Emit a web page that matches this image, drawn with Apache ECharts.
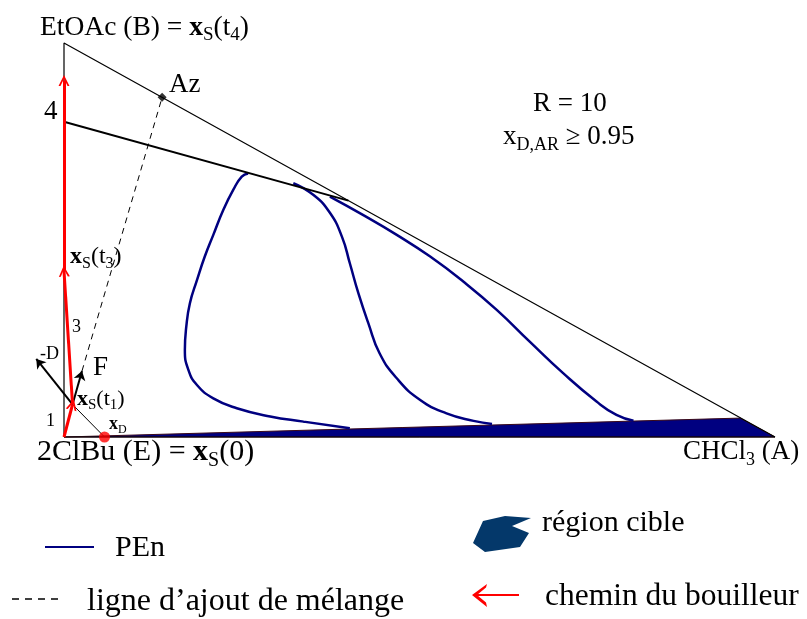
<!DOCTYPE html>
<html>
<head>
<meta charset="utf-8">
<script src="https://cdn.jsdelivr.net/npm/echarts@6/dist/echarts.min.js"></script>
<style>html,body{margin:0;padding:0;background:#fff}#c{width:807px;height:619px}</style>
</head>
<body>
<div id="c"></div>
<script>
// Compositions: [x_A (CHCl3), x_B (EtOAc)]; x_E = 1 - x_A - x_B
const triangle = [[0, 0], [0, 1], [1, 0], [0, 0]];
const line4 = [[0, 0.8], [0.4, 0.6]];
const pen1 = [[0.402,0.022],[0.337,0.039],[0.290,0.052],[0.243,0.073],[0.210,0.098],[0.187,0.132],[0.175,0.170],[0.170,0.221],[0.172,0.280],[0.177,0.339],[0.187,0.398],[0.198,0.458],[0.210,0.513],[0.224,0.576],[0.238,0.627],[0.250,0.661],[0.259,0.669]];
const pen2 = [[0.3225,0.644],[0.351,0.614],[0.374,0.569],[0.391,0.508],[0.402,0.441],[0.414,0.365],[0.428,0.289],[0.444,0.212],[0.468,0.149],[0.501,0.094],[0.538,0.060],[0.576,0.041],[0.602,0.033]];
const pen3 = [[0.374,0.610],[0.421,0.563],[0.468,0.513],[0.515,0.458],[0.562,0.394],[0.609,0.322],[0.655,0.242],[0.702,0.162],[0.749,0.090],[0.777,0.056],[0.801,0.041]];
const targetRegion = [[0, 0], [0.951, 0.048], [1, 0]];
const xD = [0.057, 0];
const xS0 = [0, 0];
const xS1 = [0.012, 0.0825];
const xS3 = [0, 0.421];
const xS4end = [0, 0.905];
const az = [0.138, 0.862];
const feedTip = [0.0253, 0.1675];
const minusDTip = [-0.039, 0.198];

const FONT = 'Liberation Serif';
const NAVY = '#000080';
const chevron = 'path://M5,0 L10,10 L8.2,10 L5,3.4 L1.8,10 L0,10 Z';

function txt(x, y, text, fs, extra) {
  const subFs = Math.round(fs * 0.68);
  const lh = Math.round(fs * 1.25);
  return Object.assign({
    type: 'text', z: 100,
    style: {
      x: x, y: y, text: text, fontSize: fs, fontFamily: FONT, fill: '#000',
      lineHeight: lh,
      align: 'left', verticalAlign: 'middle', textAlign: 'left', textVerticalAlign: 'middle',
      rich: {
        b: { fontSize: fs, fontFamily: FONT, fontWeight: 'bold', lineHeight: lh, fill: '#000' },
        i: { fontSize: fs, fontFamily: FONT, lineHeight: lh, fill: '#000' },
        s: { fontSize: subFs, fontFamily: FONT, lineHeight: subFs, verticalAlign: 'bottom', fill: '#000' }
      }
    }
  }, extra || {});
}

const chart = echarts.init(document.getElementById('c'), null, { renderer: 'canvas' });
const option = {
  animation: false,
  backgroundColor: '#fff',
  grid: { left: 64, right: 32, top: 43, bottom: 182 },
  xAxis: { type: 'value', min: 0, max: 1, show: false },
  yAxis: { type: 'value', min: 0, max: 1, show: false },
  series: [
    {
      type: 'custom', z: 1, clip: false,
      data: targetRegion,
      renderItem: function (params, api) {
        if (params.dataIndex !== 0) return;
        const pts = targetRegion.map(p => api.coord(p));
        return { type: 'polygon', shape: { points: pts }, style: { fill: NAVY, stroke: '#3a0a1a', lineWidth: 1 } };
      }
    },
    { type: 'line', z: 2, data: triangle, symbol: 'none', clip: false, lineStyle: { color: '#000', width: 1.2 } },
    { type: 'line', z: 3, data: pen1, smooth: 0.5, symbol: 'none', clip: false, lineStyle: { color: NAVY, width: 2.5 } },
    { type: 'line', z: 3, data: pen2, smooth: 0.5, symbol: 'none', clip: false, lineStyle: { color: NAVY, width: 2.5 } },
    { type: 'line', z: 3, data: pen3, smooth: 0.5, symbol: 'none', clip: false, lineStyle: { color: NAVY, width: 2.5 } },
    { type: 'line', z: 4, data: line4, symbol: 'none', clip: false, lineStyle: { color: '#000', width: 2 } },
    { type: 'line', z: 4, data: [feedTip, az], symbol: 'none', clip: false, lineStyle: { color: '#000', width: 1, type: [6, 5] } },
    { type: 'line', z: 4, data: [xD, xS1], symbol: 'none', clip: false, lineStyle: { color: '#000', width: 1 } },
    {
      type: 'lines', coordinateSystem: 'cartesian2d', z: 5, clip: false,
      symbol: ['none', 'arrow'], symbolSize: 9,
      lineStyle: { color: '#000', width: 2, opacity: 1 },
      data: [{ coords: [xS1, minusDTip] }, { coords: [xS1, feedTip] }]
    },
    {
      type: 'lines', coordinateSystem: 'cartesian2d', z: 6, clip: false,
      symbol: ['none', chevron], symbolSize: [12, 11],
      lineStyle: { color: '#ff0000', width: 3, opacity: 1 },
      itemStyle: { color: '#ff0000' },
      data: [{ coords: [xS0, xS1] }, { coords: [xS1, xS3] }, { coords: [xS3, xS4end] }]
    },
    { type: 'scatter', z: 7, data: [az], symbol: 'diamond', symbolSize: 9, itemStyle: { color: '#000' }, clip: false },
    { type: 'scatter', z: 7, data: [xD], symbol: 'circle', symbolSize: 11, itemStyle: { color: '#ff0000' }, clip: false }
  ],
  graphic: [
    txt(40, 28, 'EtOAc (B) = {b|x}{s|S}(t{s|4})', 27.5),
    txt(37, 452, '2ClBu (E) = {b|x}{s|S}(0)', 30),
    txt(683, 452, 'CHCl{s|3} (A)', 27),
    txt(533, 104, 'R = 10', 27),
    txt(503, 137, '{i|x}{s|D,AR} ≥ 0.95', 27),
    txt(44, 112, '4', 27),
    txt(169, 85, 'Az', 27),
    txt(70, 257, '{b|x}{s|S}(t{s|3})', 24),
    txt(72, 327, '3', 18),
    txt(40, 354, '-D', 18),
    txt(93, 368, 'F', 27),
    txt(77, 399, '{b|x}{s|S}(t{s|1})', 22),
    txt(46, 421, '1', 18),
    txt(109, 424, '{b|x}{s|D}', 18),
    // legend
    { type: 'line', shape: { x1: 45, y1: 547, x2: 94, y2: 547 }, style: { stroke: NAVY, lineWidth: 2 } },
    txt(115, 548, 'PEn', 30),
    { type: 'line', shape: { x1: 12, y1: 599, x2: 62, y2: 599 }, style: { stroke: '#000', lineWidth: 1.3, lineDash: [7, 6] } },
    txt(87, 602, 'ligne d’ajout de mélange', 32),
    { type: 'polygon', shape: { points: [[483,521],[505,516],[531,518],[512,526],[529,533],[520,547],[485,552],[473,543]] }, style: { fill: '#04386a' } },
    txt(542, 523, 'région cible', 30),
    { type: 'line', shape: { x1: 476, y1: 595, x2: 519, y2: 595 }, style: { stroke: '#ff0000', lineWidth: 2 } },
    { type: 'polygon', shape: { points: [[472,595],[487,584],[486,587.5],[477,595],[486,602.5],[487,607]] }, style: { fill: '#ff0000' } },
    txt(545, 597, 'chemin du bouilleur', 31.5)
  ]
};
chart.setOption(option);
</script>
</body>
</html>
